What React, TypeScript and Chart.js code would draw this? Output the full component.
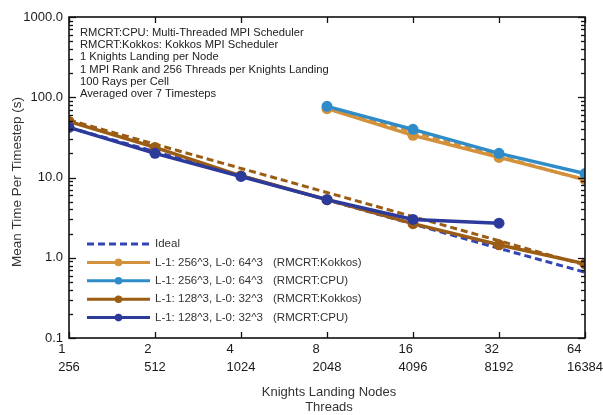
import React, { useEffect, useRef } from "react";
import { Chart, registerables } from "chart.js";

Chart.register(...registerables);

// ---- data ----
const nodes = [1, 2, 4, 8, 16, 32, 64];
const threadLabels = ["256", "512", "1024", "2048", "4096", "8192", "16384"];
const yTickValues = [0.1, 1, 10, 100, 1000];

const kokkos256 = [null, null, null, 72, 33.5, 17.8, 9.4];
const cpu256 = [null, null, null, 77, 39.8, 20, 11.2];
const kokkos128 = [50, 23.7, 10.5, 5.3, 2.66, 1.45, 0.84];
const cpu128 = [42, 20, 10.3, 5.3, 3.0, 2.7, null];

const idealCpu128 = [42, 21, 10.5, 5.25, 2.63, 1.31, 0.66];
const idealKokkos128 = [52, 26, 13, 6.5, 3.25, 1.63, 0.81];
const idealKokkos256 = [null, null, null, 74, 37, 18.5, 9.25];

const annotationLines = [
  "RMCRT:CPU: Multi-Threaded MPI Scheduler",
  "RMCRT:Kokkos: Kokkos MPI Scheduler",
  "1 Knights Landing per Node",
  "1 MPI Rank and 256 Threads per Knights Landing",
  "100 Rays per Cell",
  "Averaged over 7 Timesteps",
];

const legendNames = [
  "Ideal",
  "L-1: 256^3, L-0: 64^3",
  "L-1: 256^3, L-0: 64^3",
  "L-1: 128^3, L-0: 32^3",
  "L-1: 128^3, L-0: 32^3",
];
const legendSources = ["", "(RMCRT:Kokkos)", "(RMCRT:CPU)", "(RMCRT:Kokkos)", "(RMCRT:CPU)"];

const C_ORANGE = "#d4913c";
const C_BLUE = "#2f8cc9";
const C_BROWN = "#9b5c14";
const C_NAVY = "#2c3a9c";
const C_NAVY_DASH = "#3344b4";

const legendColors = [C_NAVY_DASH, C_ORANGE, C_BLUE, C_BROWN, C_NAVY];
const legendDashed = [true, false, false, false, false];

const FONT = "'Liberation Sans', Arial, sans-serif";

function pts(arr: (number | null)[]) {
  const out: { x: number; y: number }[] = [];
  arr.forEach((v, i) => {
    if (v !== null) out.push({ x: nodes[i], y: v });
  });
  return out;
}

function solid(data: (number | null)[], color: string) {
  return {
    data: pts(data),
    borderColor: color,
    backgroundColor: color,
    pointBackgroundColor: color,
    pointBorderColor: color,
    borderWidth: 3.5,
    pointRadius: 5.5,
    pointBorderWidth: 0,
    tension: 0,
    fill: false,
  };
}

function dashed(data: (number | null)[], color: string) {
  return {
    data: pts(data),
    borderColor: color,
    backgroundColor: color,
    borderWidth: 3,
    borderDash: [7, 4],
    pointRadius: 0,
    tension: 0,
    fill: false,
  };
}

const decor = {
  id: "decor",
  afterDraw(chart: any) {
    const { ctx, chartArea } = chart;
    const { left, right, top, bottom } = chartArea;
    const x = chart.scales.x;
    const y = chart.scales.y;
    ctx.save();

    const line = (x1: number, y1: number, x2: number, y2: number) => {
      ctx.beginPath();
      ctx.moveTo(x1, y1);
      ctx.lineTo(x2, y2);
      ctx.stroke();
    };

    // frame
    ctx.strokeStyle = "#111";
    ctx.lineWidth = 1.6;
    ctx.strokeRect(left, top, right - left, bottom - top);

    // x ticks (inward, bottom & top)
    ctx.lineWidth = 1.3;
    x.ticks.forEach((t: any) => {
      const px = Math.round(x.getPixelForValue(t.value)) + 0.5;
      line(px, bottom, px, bottom - 6);
      line(px, top, px, top + 6);
    });

    // y ticks major + minor
    for (let d = 0; d < yTickValues.length; d++) {
      const base = yTickValues[d];
      const maxK = d === yTickValues.length - 1 ? 1 : 9;
      for (let k = 1; k <= maxK; k++) {
        const v = base * k;
        const py = Math.round(y.getPixelForValue(v)) + 0.5;
        const len = k === 1 ? 7 : 4;
        line(left, py, left + len, py);
        line(right, py, right - len, py);
      }
    }

    // x tick labels: two rows, left-aligned block centered on tick
    ctx.fillStyle = "#1a1a1a";
    ctx.font = `13px ${FONT}`;
    ctx.textBaseline = "middle";
    ctx.textAlign = "left";
    x.ticks.forEach((t: any, i: number) => {
      const px = x.getPixelForValue(t.value);
      const l1 = String(t.value);
      const l2 = threadLabels[i];
      const w = Math.max(ctx.measureText(l1).width, ctx.measureText(l2).width);
      const lx = px - w / 2;
      ctx.fillText(l1, lx, bottom + 11);
      ctx.fillText(l2, lx, bottom + 29);
    });

    // axis titles
    ctx.fillStyle = "#333";
    ctx.font = `13px ${FONT}`;
    ctx.textAlign = "center";
    const cx = (left + right) / 2 + 2;
    ctx.fillText("Knights Landing Nodes", cx, 392);
    ctx.fillText("Threads", cx, 407);

    ctx.save();
    ctx.translate(17, 182);
    ctx.rotate(-Math.PI / 2);
    ctx.font = `13.5px ${FONT}`;
    ctx.fillText("Mean Time Per Timestep (s)", 0, 0);
    ctx.restore();

    // annotation
    ctx.fillStyle = "#222";
    ctx.font = `11.2px ${FONT}`;
    ctx.textAlign = "left";
    annotationLines.forEach((s, i) => {
      ctx.fillText(s, left + 11, top + 16 + i * 12.2);
    });

    // legend
    ctx.font = `11.5px ${FONT}`;
    legendNames.forEach((name, i) => {
      const ly = 244 + i * 18.4;
      const x1 = 87;
      const x2 = 150;
      ctx.strokeStyle = legendColors[i];
      ctx.lineWidth = 3;
      ctx.setLineDash(legendDashed[i] ? [7, 4] : []);
      line(x1, ly, x2, ly);
      ctx.setLineDash([]);
      if (!legendDashed[i]) {
        ctx.fillStyle = legendColors[i];
        ctx.beginPath();
        ctx.arc((x1 + x2) / 2, ly, 3.8, 0, Math.PI * 2);
        ctx.fill();
      }
      ctx.fillStyle = "#333";
      ctx.fillText(name, 155, ly);
      if (legendSources[i]) ctx.fillText(legendSources[i], 273, ly);
    });

    ctx.restore();
  },
};

export default function App() {
  const ref = useRef<HTMLCanvasElement | null>(null);

  useEffect(() => {
    document.body.style.margin = "0";
    const canvas = ref.current;
    if (!canvas) return;
    Chart.defaults.font.family = FONT;

    const chart = new Chart(canvas, {
      type: "line",
      data: {
        datasets: [
          solid(cpu256, C_BLUE),
          solid(kokkos256, C_ORANGE),
          dashed(idealKokkos256, C_ORANGE),
          solid(cpu128, C_NAVY),
          solid(kokkos128, C_BROWN),
          dashed(idealKokkos128, C_BROWN),
          dashed(idealCpu128, C_NAVY_DASH),
        ] as any,
      },
      options: {
        animation: false,
        responsive: false,
        maintainAspectRatio: false,
        devicePixelRatio: 1,
        layout: { padding: { top: 17, right: 18, left: 0, bottom: 0 } },
        plugins: {
          legend: { display: false },
          tooltip: { enabled: false },
          title: { display: false },
        },
        scales: {
          x: {
            type: "logarithmic",
            min: 1,
            max: 64,
            grid: { display: false, drawTicks: false },
            border: { display: false },
            ticks: { display: false },
            afterBuildTicks: (s: any) => {
              s.ticks = nodes.map((v) => ({ value: v }));
            },
            afterFit: (s: any) => {
              s.height = 77;
            },
          },
          y: {
            type: "logarithmic",
            min: 0.1,
            max: 1000,
            grid: { display: false, drawTicks: false },
            border: { display: false },
            ticks: {
              padding: 6,
              color: "#1a1a1a",
              font: { size: 13, family: FONT },
              autoSkip: false,
              callback: (v: any) => Number(v).toFixed(1),
            },
            afterBuildTicks: (s: any) => {
              s.ticks = yTickValues.map((v) => ({ value: v }));
            },
            afterFit: (s: any) => {
              s.width = 69;
            },
          },
        },
      } as any,
      plugins: [decor],
    });
    return () => chart.destroy();
  }, []);

  return (
    <canvas
      ref={ref}
      width={603}
      height={415}
      style={{ display: "block", width: 603, height: 415 }}
    />
  );
}
